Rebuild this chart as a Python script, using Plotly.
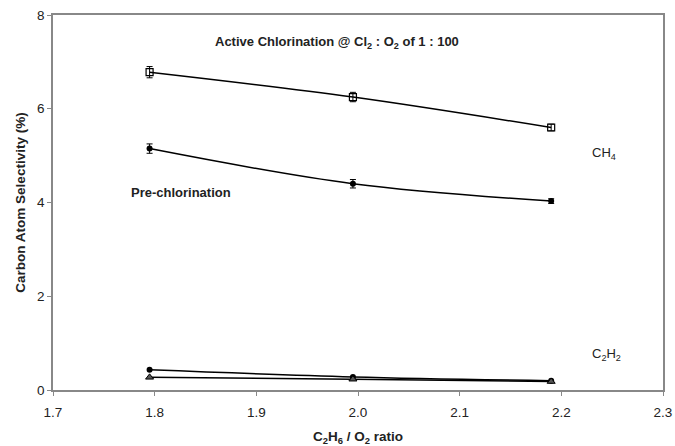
import plotly.graph_objects as go

ratio = [1.795, 1.995, 2.19]
active_ch4 = [6.78, 6.25, 5.60]
active_ch4_err = [0.12, 0.10, 0.07]
pre_ch4 = [5.15, 4.40, 4.03]
pre_ch4_err = [0.10, 0.09, 0.05]
c2h2_a = [0.43, 0.28, 0.20]
c2h2_b = [0.27, 0.23, 0.18]

fig = go.Figure()
fig.add_trace(go.Scatter(x=ratio, y=active_ch4, mode="lines+markers", line=dict(color="black", width=1.5, shape="spline"),
                         marker=dict(symbol="square-open", size=7, color="black", line=dict(width=1.2)),
                         error_y=dict(type="data", array=active_ch4_err, color="black", thickness=1, width=3)))
fig.add_trace(go.Scatter(x=ratio, y=pre_ch4, mode="lines+markers", line=dict(color="black", width=1.5, shape="spline"),
                         marker=dict(symbol="circle", size=6, color="black"),
                         error_y=dict(type="data", array=pre_ch4_err, color="black", thickness=1, width=3)))
fig.add_trace(go.Scatter(x=ratio, y=c2h2_a, mode="lines+markers", line=dict(color="black", width=1.5, shape="spline"),
                         marker=dict(symbol="circle", size=6, color="black")))
fig.add_trace(go.Scatter(x=ratio, y=c2h2_b, mode="lines+markers", line=dict(color="black", width=1.5, shape="spline"),
                         marker=dict(symbol="triangle-up", size=7, color="#555", line=dict(color="black", width=1))))

fig.update_layout(
    width=675, height=446, margin=dict(l=53, r=12, t=15, b=56),
    paper_bgcolor="white", plot_bgcolor="white", showlegend=False,
    font=dict(family="Liberation Sans, Arial, sans-serif", size=13, color="#222"),
    xaxis=dict(range=[1.7, 2.3], tickvals=[1.7, 1.8, 1.9, 2.0, 2.1, 2.2, 2.3], ticktext=["1.7", "1.8", "1.9", "2.0", "2.1", "2.2", "2.3"],
               showgrid=False, zeroline=False, showline=True, linecolor="#888", linewidth=1.5, mirror=True,
               ticks="outside", ticklen=4, tickcolor="#888", tickfont=dict(size=13.5), ticklabelstandoff=5,
               automargin=False,
               title=dict(text="<b>C<sub>2</sub>H<sub>6</sub> / O<sub>2</sub> ratio</b>", font=dict(size=13.5), standoff=14)),
    yaxis=dict(range=[0, 8], tickvals=[0, 2, 4, 6, 8], showgrid=False, zeroline=False, showline=True,
               linecolor="#888", linewidth=1.5, mirror=True, ticks="outside", ticklen=4, tickcolor="#888",
               tickfont=dict(size=13.5), automargin=False,
               title=dict(text="<b>Carbon Atom Selectivity (%)</b>", font=dict(size=13.5), standoff=8)),
)
fig.add_annotation(x=1.857, y=7.42, xref="x", yref="y", xanchor="left", showarrow=False,
                   text="<b>Active Chlorination @ Cl<sub>2</sub> : O<sub>2</sub> of 1 : 100</b>", font=dict(size=13))
fig.add_annotation(x=1.775, y=4.22, xref="x", yref="y", xanchor="left", showarrow=False,
                   text="<b>Pre-chlorination</b>", font=dict(size=13))
fig.add_annotation(x=2.228, y=5.05, xref="x", yref="y", xanchor="left", showarrow=False,
                   text="CH<sub>4</sub>", font=dict(size=13))
fig.add_annotation(x=2.228, y=0.75, xref="x", yref="y", xanchor="left", showarrow=False,
                   text="C<sub>2</sub>H<sub>2</sub>", font=dict(size=13))

fig.write_html("out.html", config={"displayModeBar": False},
               post_script="document.body.style.margin='0';document.body.style.overflow='hidden';")
